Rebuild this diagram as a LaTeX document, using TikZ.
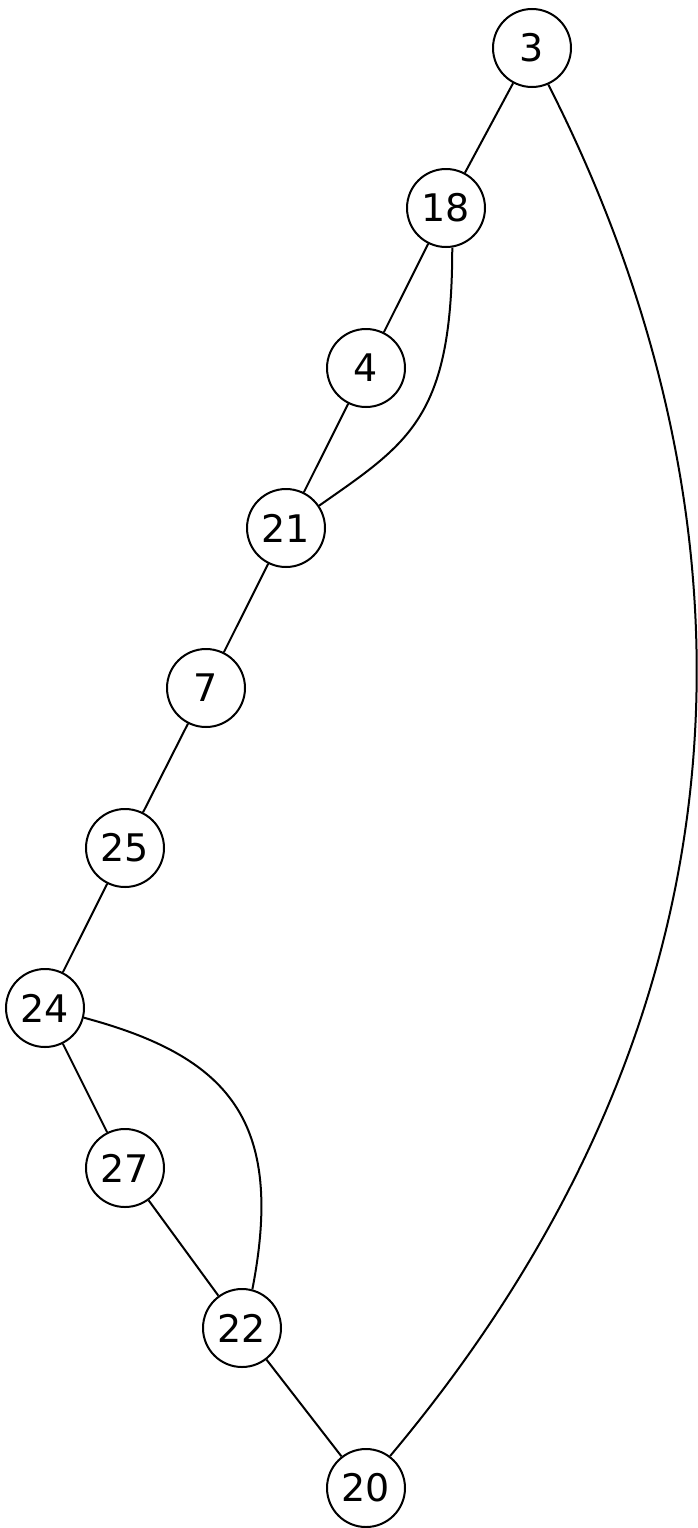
\documentclass[tikz,border=0pt]{standalone}
\usepackage{fontspec}
\setmainfont{DejaVu Sans}
\usetikzlibrary{positioning}

\tikzset{
  vertex/.style={draw,circle,line width=2pt,minimum size=78pt,inner sep=0pt,font=\fontsize{38}{40}\selectfont},
  link/.style={line width=2pt}
}

\begin{document}
\begin{tikzpicture}[x=1pt,y=1pt]
		\useasboundingbox (0,0) rectangle (697,-1528);
		% chain of vertices
		\node[vertex] (v3)  at (532,-48)   {3};
		\node[vertex] (v18) at (446,-208)  {18};
		\node[vertex] (v4)  at (366,-368)  {4};
		\node[vertex] (v21) at (286,-528)  {21};
		\node[vertex] (v7)  at (206,-688)  {7};
		\node[vertex] (v25) at (125,-848)  {25};
		\node[vertex] (v24) at (45,-1008)  {24};
		\node[vertex] (v27) at (125,-1168) {27};
		\node[vertex] (v22) at (242,-1328) {22};
		\node[vertex] (v20) at (366,-1488) {20};
		
		\draw[link] (v3) -- (v18);
		\draw[link] (v18) -- (v4);
		\draw[link] (v4) -- (v21);
		\draw[link] (v21) -- (v7);
		\draw[link] (v7) -- (v25);
		\draw[link] (v25) -- (v24);
		\draw[link] (v24) -- (v27);
		\draw[link] (v27) -- (v22);
		\draw[link] (v22) -- (v20);
		
		% curved links
		\draw[link] (v18.-81) .. controls +(-90:170) and +(35:110) .. (v21.34);
		\draw[link] (v24.-14) .. controls +(-15:150) and +(79:172) .. (v22.75);
		\draw[link] (v3.-66) .. controls +(-63:353) and +(50:694) .. (v20.53);
	\end{tikzpicture}
\end{document}
